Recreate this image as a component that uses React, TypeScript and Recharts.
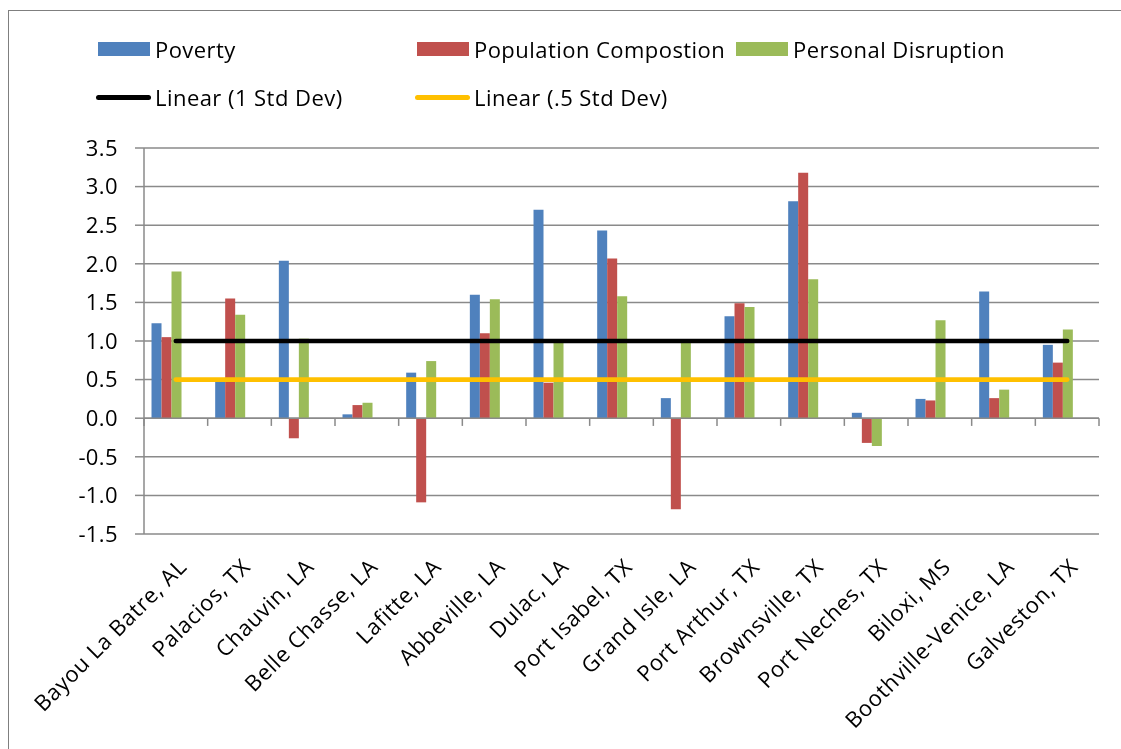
import React from "react";
import {
  ComposedChart,
  Bar,
  Line,
  XAxis,
  YAxis,
  CartesianGrid,
  ReferenceLine,
} from "recharts";

const cities = [
  "Bayou La Batre, AL",
  "Palacios, TX",
  "Chauvin, LA",
  "Belle Chasse, LA",
  "Lafitte, LA",
  "Abbeville, LA",
  "Dulac, LA",
  "Port Isabel, TX",
  "Grand Isle, LA",
  "Port Arthur, TX",
  "Brownsville, TX",
  "Port Neches, TX",
  "Biloxi, MS",
  "Boothville-Venice, LA",
  "Galveston, TX",
];
const poverty = [1.23, 0.49, 2.04, 0.05, 0.59, 1.6, 2.7, 2.43, 0.26, 1.32, 2.81, 0.07, 0.25, 1.64, 0.95];
const population = [1.05, 1.55, -0.26, 0.17, -1.09, 1.1, 0.46, 2.07, -1.18, 1.49, 3.18, -0.32, 0.23, 0.26, 0.72];
const disruption = [1.9, 1.34, 1.03, 0.2, 0.74, 1.54, 0.98, 1.58, 0.98, 1.44, 1.8, -0.36, 1.27, 0.37, 1.15];
const stdDev1 = [1, 1, 1, 1, 1, 1, 1, 1, 1, 1, 1, 1, 1, 1, 1];
const stdDevHalf = [0.5, 0.5, 0.5, 0.5, 0.5, 0.5, 0.5, 0.5, 0.5, 0.5, 0.5, 0.5, 0.5, 0.5, 0.5];
const yTicks = [-1.5, -1.0, -0.5, 0, 0.5, 1.0, 1.5, 2.0, 2.5, 3.0, 3.5];

const data = cities.map((city, i) => ({
  city,
  poverty: poverty[i],
  population: population[i],
  disruption: disruption[i],
  sd1: stdDev1[i],
  sdHalf: stdDevHalf[i],
}));

const FONT = '"Open Sans", sans-serif';
const GRID = "#8a8a8a";

const legendItems = [
  { label: "Poverty", color: "#4F81BD", kind: "bar" },
  { label: "Population Compostion", color: "#C0504D", kind: "bar" },
  { label: "Personal Disruption", color: "#9BBB59", kind: "bar" },
  { label: "Linear (1 Std Dev)", color: "#000000", kind: "line" },
  { label: "Linear (.5 Std Dev)", color: "#FFC000", kind: "line" },
];

// rotated category label, end of text pinned just right of the category centre
function CityTick({ x, y, payload }: any) {
  const ax = x + 1;
  return (
    <text
      x={ax}
      y={y}
      transform={`rotate(-45, ${ax}, ${y})`}
      textAnchor="end"
      dy="0.72em"
      fontSize={22}
      fontFamily={FONT}
      letterSpacing={0.7}
      fill="#000"
    >
      {payload.value}
    </text>
  );
}

function ChartLegend() {
  return (
    <div
      style={{
        position: "absolute",
        left: 88,
        top: 17,
        display: "grid",
        gridTemplateColumns: "319px 319px 319px",
        gridAutoRows: "48px",
        fontFamily: FONT,
        fontSize: 22,
        letterSpacing: 0.45,
        color: "#000",
      }}
    >
      {legendItems.map((it) => (
        <div key={it.label} style={{ display: "flex", alignItems: "center", whiteSpace: "nowrap" }}>
          {it.kind === "bar" ? (
            <div style={{ width: 52, height: 14, background: it.color, marginLeft: 2, marginRight: 5 }} />
          ) : (
            <div style={{ width: 55, height: 5, borderRadius: 3, background: it.color, marginRight: 4 }} />
          )}
          <span>{it.label}</span>
        </div>
      ))}
    </div>
  );
}

export default function App() {
  return (
    <>
      <div
        style={{
          position: "fixed",
          left: 8,
          top: 10,
          width: 3000,
          height: 3000,
          borderLeft: "1px solid #7f7f7f",
          borderTop: "1px solid #7f7f7f",
          pointerEvents: "none",
        }}
      />
      <div style={{ position: "relative", width: 1105, height: 733 }}>
        <ChartLegend />
        <ComposedChart
          width={1105}
          height={733}
          data={data}
          margin={{ top: 140, right: 14, bottom: 0, left: 0 }}
          barCategoryGap="11.8%"
          barGap={0}
        >
          <CartesianGrid vertical={false} stroke={GRID} strokeWidth={1.5} />
          <XAxis
            dataKey="city"
            interval={0}
            height={207}
            axisLine={false}
            tickLine={false}
            tickSize={0}
            tickMargin={23}
            tick={<CityTick />}
          />
          <YAxis
            domain={[-1.5, 3.5]}
            ticks={yTicks}
            interval={0}
            width={136}
            tickFormatter={(v: number) => v.toFixed(1)}
            axisLine={{ stroke: GRID, strokeWidth: 1.5 }}
            tickLine={{ stroke: GRID, strokeWidth: 1.5 }}
            tickSize={9}
            tickMargin={17}
            tick={{ fill: "#000", fontSize: 22, fontFamily: FONT, letterSpacing: 0.4 }}
          />
          <ReferenceLine y={0} stroke={GRID} strokeWidth={1.5} />
          {cities.map((c) => (
            <ReferenceLine
              key={c}
              segment={[{ x: c, y: 0 }, { x: c, y: -0.1 }]}
              position="start"
              stroke={GRID}
              strokeWidth={1.5}
            />
          ))}
          <ReferenceLine
            segment={[{ x: cities[cities.length - 1], y: 0 }, { x: cities[cities.length - 1], y: -0.1 }]}
            position="end"
            stroke={GRID}
            strokeWidth={1.5}
          />
          <Bar dataKey="poverty" fill="#4F81BD" isAnimationActive={false} />
          <Bar dataKey="population" fill="#C0504D" isAnimationActive={false} />
          <Bar dataKey="disruption" fill="#9BBB59" isAnimationActive={false} />
          {/* the std-dev series are plotted as empty bars in the source, only their trendlines show */}
          <Bar dataKey="sd1" fill="transparent" isAnimationActive={false} />
          <Bar dataKey="sdHalf" fill="transparent" isAnimationActive={false} />
          <Line
            dataKey="sd1"
            stroke="#000000"
            strokeWidth={4.7}
            strokeLinecap="round"
            dot={false}
            activeDot={false}
            isAnimationActive={false}
          />
          <Line
            dataKey="sdHalf"
            stroke="#FFC000"
            strokeWidth={4.7}
            strokeLinecap="round"
            dot={false}
            activeDot={false}
            isAnimationActive={false}
          />
        </ComposedChart>
      </div>
    </>
  );
}
